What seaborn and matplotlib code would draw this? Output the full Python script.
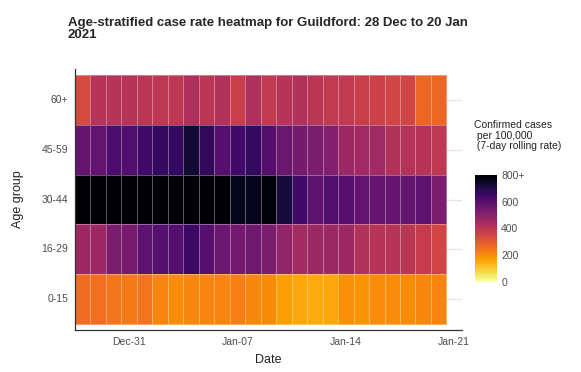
import matplotlib
matplotlib.use("Agg")
import matplotlib.pyplot as plt
import seaborn as sns
import pandas as pd
import numpy as np

# age groups, top row first (as drawn by sns.heatmap)
age_groups = ["60+", "45-59", "30-44", "16-29", "0-15"]
dates = pd.date_range("2020-12-28", "2021-01-20", freq="D")

# 7-day rolling case rate per 100,000 (Dec 28 .. Jan 20)
rate_60plus = [340, 410, 410, 410, 400, 395, 395, 430, 400, 420, 370, 425,
               390, 410, 420, 400, 390, 390, 370, 360, 350, 350, 270, 270]
rate_45_59 = [570, 575, 620, 610, 640, 660, 660, 730, 670, 600, 640, 665,
              605, 560, 540, 530, 515, 460, 455, 455, 420, 415, 410, 395]
rate_30_44 = [850, 860, 870, 880, 870, 860, 850, 840, 830, 820, 760, 760,
              790, 720, 640, 590, 610, 600, 575, 570, 570, 575, 590, 530]
rate_16_29 = [460, 460, 530, 535, 590, 600, 605, 650, 600, 560, 545, 550,
              530, 485, 450, 465, 465, 460, 420, 410, 410, 400, 380, 350]
rate_0_15 = [260, 255, 245, 235, 245, 215, 200, 210, 215, 215, 225, 210,
             205, 170, 155, 150, 155, 195, 190, 200, 200, 205, 210, 215]

tick_dates = pd.to_datetime(["2020-12-31", "2021-01-07", "2021-01-14", "2021-01-21"])
cbar_ticks = [0, 200, 400, 600, 800]
cbar_labels = ["0", "200", "400", "600", "800+"]

df = pd.DataFrame(
    [rate_60plus, rate_45_59, rate_30_44, rate_16_29, rate_0_15],
    index=age_groups,
    columns=dates,
)

sns.set_style("white")
plt.rcParams["font.family"] = ["Liberation Sans", "DejaVu Sans"]

fig = plt.figure(figsize=(5.81, 3.72), dpi=100)
ax = fig.add_axes([0.129, 0.1129, 0.666, 0.7016])
cax = fig.add_axes([0.8176, 0.242, 0.0379, 0.2876])

# light horizontal grid behind the tiles (only shows past the last day)
for i in range(len(age_groups)):
    ax.axhline(i + 0.5, color="#e6e6e6", lw=1, zorder=0)

sns.heatmap(
    df,
    cmap="inferno_r",
    vmin=0,
    vmax=800,
    linewidths=0.6,
    linecolor=(1, 1, 1, 0.35),
    ax=ax,
    cbar_ax=cax,
    cbar_kws={"ticks": cbar_ticks},
)

ax.set_xlim(0, 25)
ax.set_ylim(5.12, -0.12)
xpos = [(d - dates[0]).days + 0.5 for d in tick_dates]
ax.set_xticks(xpos)
ax.set_xticklabels([d.strftime("%b-%d") for d in tick_dates], rotation=0)
ax.set_yticks(np.arange(len(age_groups)) + 0.5)
ax.set_yticklabels(age_groups, rotation=0)
ax.tick_params(axis="both", length=3, width=0.8, color="#333333",
               labelsize=7.5, labelcolor="#4d4d4d", pad=2)
for side in ["left", "bottom"]:
    ax.spines[side].set_visible(True)
    ax.spines[side].set_color("#333333")
    ax.spines[side].set_linewidth(0.9)
for side in ["top", "right"]:
    ax.spines[side].set_visible(False)
ax.set_xlabel("Date", fontsize=9, color="#222222", labelpad=5)
ax.set_ylabel("Age group", fontsize=9, color="#222222", labelpad=12)

cbar = ax.collections[0].colorbar
cbar.outline.set_visible(False)
cbar.set_ticks(cbar_ticks)
cbar.set_ticklabels(cbar_labels)
cax.tick_params(length=3, width=0.6, direction="in", color="white",
                labelsize=7.5, labelcolor="#4d4d4d", pad=3)

fig.text(0.816, 0.678, "Confirmed cases\n per 100,000\n (7-day rolling rate)",
         fontsize=7.5, color="#222222", va="top", ha="left", linespacing=1.1)

fig.text(0.117, 0.953, "Age-stratified case rate heatmap for Guildford: 28 Dec to 20 Jan\n2021",
         fontsize=9.5, fontweight="bold", va="top", ha="left", linespacing=0.95)

fig.savefig("out.png", dpi=100)
